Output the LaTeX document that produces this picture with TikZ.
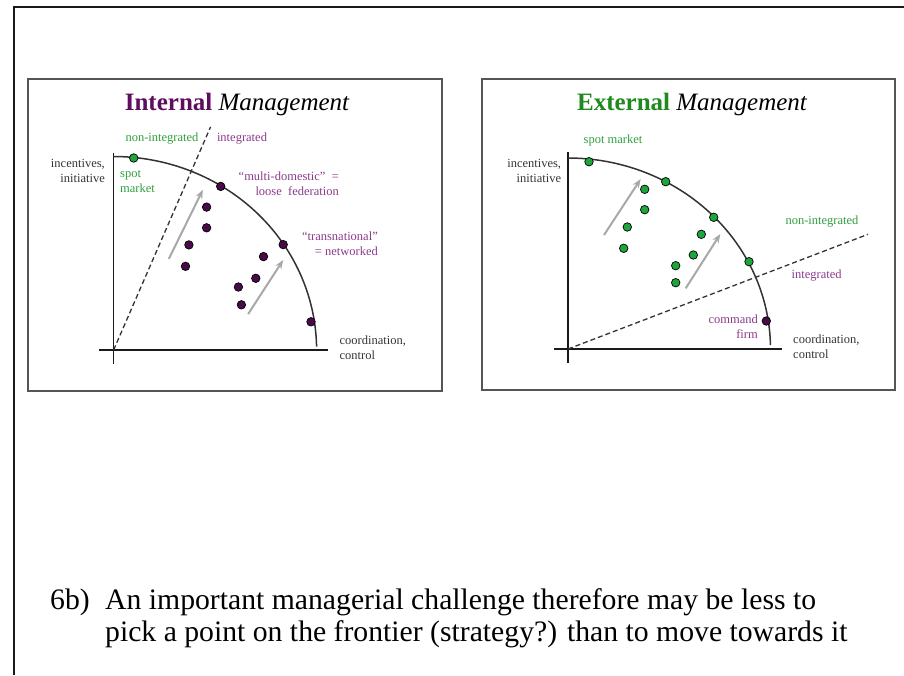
\documentclass[tikz,border=0pt]{standalone}
\usepackage{fontspec}
\setmainfont{Liberation Serif}
\usetikzlibrary{arrows.meta}
\definecolor{ttlpurple}{HTML}{5E0E5E}
\definecolor{lblpurple}{HTML}{8A3A8A}
\definecolor{dotpurple}{HTML}{4A0A4A}
\definecolor{ttlgreen}{HTML}{1F8A1F}
\definecolor{lblgreen}{HTML}{2F9F3F}
\definecolor{dotgreen}{HTML}{1DA63C}
\definecolor{axisgray}{HTML}{1A1A1A}
\definecolor{txtgray}{HTML}{333333}
\definecolor{boxgray}{HTML}{555555}
\definecolor{arrowgray}{HTML}{A8A8A8}
\begin{document}
\begin{tikzpicture}[x=1pt,y=-1pt,
  lbl/.style={inner sep=0pt, font=\fontsize{12.5}{15}\selectfont},
  ttl/.style={inner sep=0pt, font=\fontsize{25}{30}\selectfont},
  bigtxt/.style={inner sep=0pt, anchor=base west, font=\fontsize{29.7}{33}\selectfont},
  panel/.style={draw=boxgray, line width=1.8pt},
  axisline/.style={draw=axisgray, line width=1.4pt},
  frontier/.style={draw=txtgray, line width=1.5pt},
  divider/.style={draw=txtgray, line width=1.3pt, dash pattern=on 5pt off 3pt},
  movearrow/.style={draw=arrowgray, line width=2pt, -{Stealth[length=9pt,width=7pt]}},
  pdot/.style={circle, fill=dotpurple, draw=black, line width=0.7pt, minimum size=8.5pt, inner sep=0pt},
  gdot/.style={circle, fill=dotgreen, draw=black, line width=0.7pt, minimum size=8.5pt, inner sep=0pt}
]
\useasboundingbox (0,0) rectangle (904,675);
% outer frame
\draw[line width=2pt, draw=black!90] (14,675) -- (14,7) -- (904,7);

% ================= LEFT PANEL =================
\draw[panel] (28,79) rectangle (442,391);
\node[ttl, anchor=base] (ltitle) at (237,110) {{\bfseries\color{ttlpurple}Internal} {\itshape Management}};
% axes
\coordinate (lytop) at (113.6,152.6);
\coordinate (lybot) at (113.6,364);
\coordinate (lxl) at (99,350);
\coordinate (lxr) at (328,350);
\draw[axisline] (lytop) -- (lybot);
\draw[axisline] (lxl) -- (lxr);
% frontier
\draw[frontier] plot[domain=90:1, samples=80, smooth] ({113.6+203*cos(\x)},{350-193.5*sin(\x)});
% dashed divider
\coordinate (ldo) at (113.6,350);
\coordinate (ldt) at (210.6,126.8);
\draw[divider] (ldo) -- (ldt);
% labels
\node[lbl, text=lblgreen] (lnonint) at (162,138.5) {non-integrated};
\node[lbl, text=lblpurple] (lint) at (242,138.5) {integrated};
\node[lbl, text=txtgray, anchor=east, align=right] (lyl) at (105,171) {incentives,\\initiative};
\node[lbl, text=lblgreen, anchor=west, align=left] (lspot) at (120,181.5) {spot\\market};
\node[lbl, text=lblpurple, anchor=east, align=right] (lmd) at (339,183.5) {“multi-domestic”\ \ =\\loose\ \ federation};
\node[lbl, text=lblpurple, anchor=east, align=right] (ltn) at (378,243.5) {“transnational”\\= networked};
\node[lbl, text=txtgray, anchor=west, align=left] (lxlab) at (339.4,347.5) {coordination,\\control};
% dots
\node[gdot] (lsm) at (133.7,158) {};
\node[pdot] (lp1) at (220.7,186.4) {};
\node[pdot] (lp2) at (206.6,207.1) {};
\node[pdot] (lp3) at (206.6,227.8) {};
\node[pdot] (lp4) at (188.9,244.9) {};
\node[pdot] (lp5) at (185.5,266.3) {};
\node[pdot] (lp6) at (283.2,244.6) {};
\node[pdot] (lp7) at (263.5,256.6) {};
\node[pdot] (lp8) at (255.8,278.3) {};
\node[pdot] (lp9) at (238.4,287) {};
\node[pdot] (lp10) at (241.4,304.8) {};
\node[pdot] (lp11) at (311,321.8) {};
% arrows
\coordinate (la1s) at (168.8,258.9);
\coordinate (la1e) at (202.9,189.7);
\coordinate (la2s) at (248.1,314.1);
\coordinate (la2e) at (283.2,260);
\draw[movearrow] (la1s) -- (la1e);
\draw[movearrow] (la2s) -- (la2e);

% ================= RIGHT PANEL =================
\draw[panel] (482,79) rectangle (894.7,390);
\node[ttl, anchor=base] (rtitle) at (692,110) {{\bfseries\color{ttlgreen}External} {\itshape Management}};
\coordinate (rytop) at (568,152.3);
\coordinate (rybot) at (568,363.3);
\coordinate (rxl) at (554,349);
\coordinate (rxr) at (782,349);
\draw[axisline] (rytop) -- (rybot);
\draw[axisline] (rxl) -- (rxr);
\draw[frontier] plot[domain=90:1.2, samples=80, smooth] ({568+202.5*cos(\x)},{349-191*sin(\x)});
\coordinate (rdo) at (568,349);
\coordinate (rdt) at (868,234.3);
\draw[divider] (rdo) -- (rdt);
% labels
\node[lbl, text=lblgreen] (rspot) at (613,140.7) {spot market};
\node[lbl, text=txtgray, anchor=east, align=right] (ryl) at (561.3,170.8) {incentives,\\initiative};
\node[lbl, text=lblgreen] (rnonint) at (822,221.7) {non-integrated};
\node[lbl, text=lblpurple] (rint) at (816.7,276) {integrated};
\node[lbl, text=lblpurple, anchor=east, align=right] (rcmd) at (758,326.6) {command\\firm};
\node[lbl, text=txtgray, anchor=west, align=left] (rxlab) at (793,346.6) {coordination,\\control};
% dots
\node[gdot] (rsm) at (589,161.7) {};
\node[gdot] (rg1) at (665.7,181.7) {};
\node[gdot] (rg2) at (713.7,217.3) {};
\node[gdot] (rg3) at (749,261.7) {};
\node[pdot] (rcf) at (766.3,321) {};
\node[gdot] (rg4) at (644.7,189.3) {};
\node[gdot] (rg5) at (644.7,209.7) {};
\node[gdot] (rg6) at (627.3,227) {};
\node[gdot] (rg7) at (623.7,248.3) {};
\node[gdot] (rg8) at (701.3,234.3) {};
\node[gdot] (rg9) at (693.3,255) {};
\node[gdot] (rg10) at (675.7,265.7) {};
\node[gdot] (rg11) at (675.7,282.7) {};
% arrows
\coordinate (ra1s) at (604,235);
\coordinate (ra1e) at (640.7,179);
\coordinate (ra2s) at (685.7,288.3);
\coordinate (ra2e) at (720.3,234);
\draw[movearrow] (ra1s) -- (ra1e);
\draw[movearrow] (ra2s) -- (ra2e);

% ================= BOTTOM TEXT =================
\node[bigtxt] (num) at (50,609) {6b)};
\node[bigtxt] (line1) at (105,609) {An important managerial challenge therefore may be less to};
\node[bigtxt] (line2) at (105,641) {pick a point on the frontier (strategy?) than to move towards it};
\end{tikzpicture}
\end{document}
